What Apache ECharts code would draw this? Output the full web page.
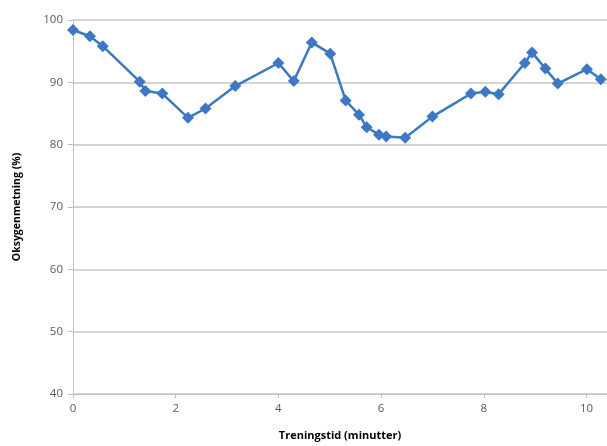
<!DOCTYPE html>
<html>
<head>
<meta charset="utf-8">
<script src="https://cdn.jsdelivr.net/npm/echarts@6/dist/echarts.min.js"></script>
<style>
html,body{margin:0;padding:0;background:#fff;}
#c{width:607px;height:446px;}
</style>
</head>
<body>
<div id="c"></div>
<script>
const timeMin = [0, 0.33, 0.58, 1.30, 1.41, 1.74, 2.24, 2.58, 3.16, 4.00, 4.30, 4.65, 5.01, 5.31, 5.57, 5.72, 5.96, 6.10, 6.47, 7.00, 7.75, 8.03, 8.29, 8.80, 8.94, 9.20, 9.44, 10.01, 10.28];
const oxygen = [98.4, 97.4, 95.8, 90.1, 88.6, 88.2, 84.3, 85.8, 89.4, 93.1, 90.2, 96.4, 94.6, 87.1, 84.8, 82.8, 81.6, 81.3, 81.1, 84.5, 88.2, 88.5, 88.1, 93.1, 94.8, 92.2, 89.8, 92.1, 90.5];
const xTitle = 'Treningstid (minutter)';
const yTitle = 'Oksygenmetning (%)';

const data = timeMin.map((t, i) => [t, oxygen[i]]);
const chart = echarts.init(document.getElementById('c'), null, {renderer: 'canvas'});
chart.setOption({
  animation: false,
  backgroundColor: '#ffffff',
  grid: {left: 73, right: 0, top: 20, bottom: 50, containLabel: false},
  xAxis: {
    type: 'value', min: 0, max: 10.4, interval: 2,
    name: xTitle, nameLocation: 'middle', nameGap: 36,
    nameTextStyle: {fontFamily: 'Open Sans', fontSize: 11, fontWeight: 'bold', color: '#000'},
    axisLine: {show: true, lineStyle: {color: '#bfbfbf', width: 1}},
    axisTick: {show: true, length: 4, lineStyle: {color: '#bfbfbf'}},
    axisLabel: {showMaxLabel: false, color: '#595959', fontFamily: 'Open Sans', fontSize: 11.5, margin: 9},
    splitLine: {show: false}
  },
  yAxis: {
    type: 'value', min: 40, max: 100, interval: 10,
    name: yTitle, nameLocation: 'middle', nameGap: 50, nameRotate: 90,
    nameTextStyle: {fontFamily: 'Open Sans', fontSize: 10.5, fontWeight: 'bold', color: '#000'},
    axisLine: {show: true, lineStyle: {color: '#bfbfbf', width: 1}},
    axisTick: {show: true, length: 5, lineStyle: {color: '#bfbfbf'}},
    axisLabel: {color: '#595959', fontFamily: 'Open Sans', fontSize: 11.5, margin: 10},
    splitLine: {show: true, lineStyle: {color: '#d4d4d4', width: 1.8}}
  },
  series: [{
    type: 'line', data: data,
    symbol: 'diamond', symbolSize: 12,
    lineStyle: {color: '#3c78c3', width: 2.5},
    itemStyle: {color: '#3c78c3'},
    clip: false
  }]
});
</script>
</body>
</html>
